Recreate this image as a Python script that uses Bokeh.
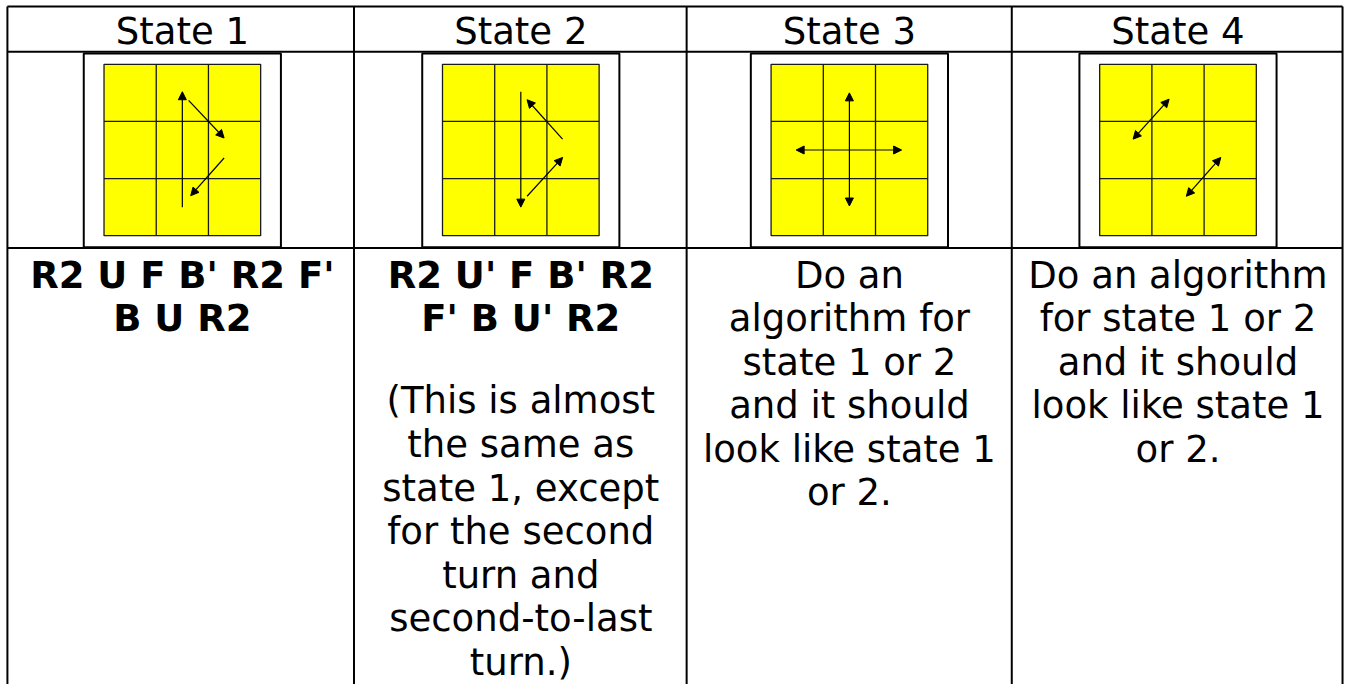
from bokeh.plotting import figure
from bokeh.models import Range1d, Arrow, NormalHead
from bokeh.core.properties import value
from bokeh.embed import file_html
from bokeh.resources import INLINE

# ---------------- data ----------------
states = ["State 1", "State 2", "State 3", "State 4"]

algorithms = [
    ["R2 U F B' R2 F'", "B U R2"],
    ["R2 U' F B' R2", "F' B U' R2"],
    [],
    [],
]

notes = [
    [],
    ["(This is almost", "the same as", "state 1, except", "for the second",
     "turn and", "second-to-last", "turn.)"],
    ["Do an", "algorithm for", "state 1 or 2", "and it should",
     "look like state 1", "or 2."],
    ["Do an algorithm", "for state 1 or 2", "and it should",
     "look like state 1", "or 2."],
]

# arrows on the 3x3 face, in sticker units (0..3, top-left origin)
arrow_state = [0, 0, 0, 1, 1, 1, 2, 2, 3, 3]
arrow_u0 = [1.50, 1.62, 2.30, 1.50, 2.30, 1.62, 1.50, 0.48, 0.64, 1.66]
arrow_v0 = [2.50, 0.63, 1.64, 0.48, 1.31, 2.31, 0.50, 1.50, 1.31, 2.31]
arrow_u1 = [1.50, 2.30, 1.66, 1.50, 1.62, 2.30, 1.50, 2.50, 1.33, 2.32]
arrow_v1 = [0.48, 1.29, 2.30, 2.50, 0.62, 1.63, 2.48, 1.50, 0.61, 1.63]
arrow_double = [False, False, False, False, False, False, True, True, True, True]

# ---------------- layout (reference-picture coordinates) ----------------
REF_W, REF_H = 1361, 700
W, H = 1345, 684
LEFT, RIGHT, TOP, BOTTOM = 7, 1358, 6.2, 710
col_lines = [357.7, 694.3, 1023.3]
centers = [184.0, 526.5, 859.0, 1191.5]
header_bottom = 52.5
image_bottom = 253.3
frame_w, frame_top, frame_bot = 199.5, 54.3, 252.5
face_w, face_top, face_bot = 158.5, 65.3, 240.7
header_mid = 32.0      # vertical centre of the header caps
first_mid = 281.0      # vertical centre of the first body line
line_h = 44.6

p = figure(width=W, height=H, x_range=Range1d(0, REF_W), y_range=Range1d(REF_H, 0),
           output_backend="svg", toolbar_location=None, min_border=0,
           x_axis_location=None, y_axis_location=None, tools="")
p.grid.visible = False
p.outline_line_color = None
p.background_fill_color = "white"
p.border_fill_color = "white"

# table borders
hy = [TOP, header_bottom, image_bottom]
p.segment(x0=[LEFT] * 3, y0=hy, x1=[RIGHT] * 3, y1=hy, line_color="black", line_width=2)
vx = [LEFT] + col_lines + [RIGHT]
p.segment(x0=vx, y0=[TOP] * len(vx), x1=vx, y1=[BOTTOM] * len(vx),
          line_color="black", line_width=2)

# image frames and faces
p.quad(left=[c - frame_w / 2 for c in centers], right=[c + frame_w / 2 for c in centers],
       top=[frame_top] * 4, bottom=[frame_bot] * 4,
       fill_color="white", line_color="black", line_width=2)
p.quad(left=[c - face_w / 2 for c in centers], right=[c + face_w / 2 for c in centers],
       top=[face_top] * 4, bottom=[face_bot] * 4,
       fill_color="#FFFF00", line_color="#1a1a1a", line_width=1.3)

cw = face_w / 3.0
ch = (face_bot - face_top) / 3.0
gx0, gy0, gx1, gy1 = [], [], [], []
for c in centers:
    fl = c - face_w / 2
    for k in (1, 2):
        gx0.append(fl + k * cw); gx1.append(fl + k * cw)
        gy0.append(face_top); gy1.append(face_bot)
        gx0.append(fl); gx1.append(fl + face_w)
        gy0.append(face_top + k * ch); gy1.append(face_top + k * ch)
p.segment(x0=gx0, y0=gy0, x1=gx1, y1=gy1, line_color="#1a1a1a", line_width=1.3)

# arrows
for s, u0, v0, u1, v1, dbl in zip(arrow_state, arrow_u0, arrow_v0, arrow_u1, arrow_v1, arrow_double):
    fl = centers[s] - face_w / 2
    head_end = NormalHead(size=8, fill_color="black", line_color="black", line_width=1)
    head_start = NormalHead(size=8, fill_color="black", line_color="black", line_width=1) if dbl else None
    p.add_layout(Arrow(start=head_start, end=head_end,
                       x_start=fl + u0 * cw, y_start=face_top + v0 * ch,
                       x_end=fl + u1 * cw, y_end=face_top + v1 * ch,
                       line_color="black", line_width=1.2))

# header text
p.text(x=centers, y=[header_mid] * 4, text=states, text_align="center",
       text_baseline="middle", text_font=value("DejaVu Sans"),
       text_font_size=value("37px"), text_color="black")

# body text
bx, by, bt = [], [], []
nx, ny, nt = [], [], []
for i, c in enumerate(centers):
    for k, t in enumerate(algorithms[i]):
        bx.append(c); by.append(first_mid + k * line_h); bt.append(t)
    start = len(algorithms[i]) + 1 if algorithms[i] else 0
    base = first_mid + start * line_h - (5 if algorithms[i] else 0)
    for k, t in enumerate(notes[i]):
        nx.append(c); ny.append(base + k * line_h); nt.append(t)

p.text(x=bx, y=by, text=bt, text_align="center", text_baseline="middle",
       text_font=value("DejaVu Sans"), text_font_size=value("37px"),
       text_font_style="bold", text_color="black")
p.text(x=nx, y=ny, text=nt, text_align="center", text_baseline="middle",
       text_font=value("DejaVu Sans"), text_font_size=value("37px"),
       text_color="black")

open("out.html", "w").write(file_html(p, INLINE))
